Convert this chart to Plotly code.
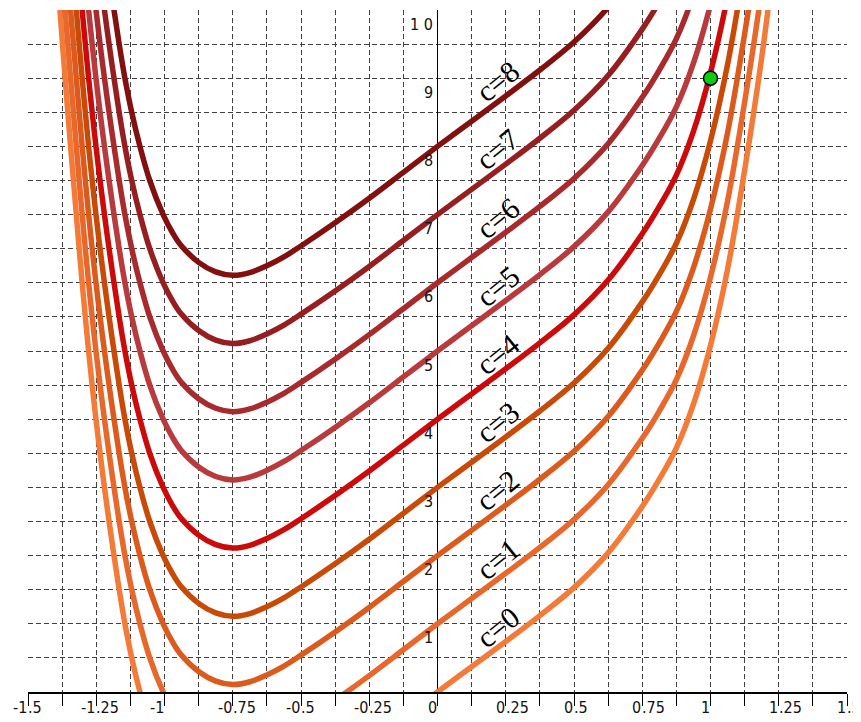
import plotly.graph_objects as go

# ---- data ----
# base curve h(x); each drawn curve is y = h(x) + c
base_x = [-1.401, -1.383, -1.364, -1.344, -1.323, -1.3125, -1.3015, -1.290, -1.278,
          -1.265, -1.251, -1.236, -1.220, -1.203, -1.185, -1.166, -1.145, -1.120,
          -1.090, -1.054, -1.005, -0.970, -0.940, -0.875, -0.8125, -0.75, -0.6875,
          -0.625, -0.5625, -0.5, -0.375, -0.25, -0.125, 0.0, 0.125, 0.25, 0.375,
          0.5, 0.625, 0.75, 0.8125, 0.875, 0.9375, 1.0, 1.0625, 1.125, 1.1875, 1.25]
base_h = [11.0, 10.0, 9.0, 8.0, 7.0, 6.5, 6.0, 5.5, 5.0,
          4.5, 4.0, 3.5, 3.0, 2.5, 2.0, 1.5, 1.0, 0.5,
          0.0, -0.5, -1.0, -1.27, -1.45, -1.70, -1.84, -1.89, -1.85,
          -1.75, -1.62, -1.46, -1.12, -0.76, -0.38, 0.0, 0.37, 0.74, 1.12,
          1.53, 2.04, 2.72, 3.12, 3.58, 4.22, 5.08, 6.2, 7.65, 9.3, 11.3]
c_values = [0, 1, 2, 3, 4, 5, 6, 7, 8]
c_colors = ["#F47A38", "#E8672A", "#DB5A1C", "#C94A06", "#CC0A0A",
            "#B83A3C", "#A82A2C", "#961E20", "#82100F"]
point_x = [1.0]
point_y = [9.0]

x_tick_vals = [-1.5, -1.25, -1.0, -0.75, -0.5, -0.25, 0.0, 0.25, 0.5, 0.75, 1.0, 1.25, 1.5]
x_tick_text = ["-1.5", "-1.25", "-1", "-0.75", "-0.5", "-0.25", "0", "0.25", "0.5",
               "0.75", "1", "1.25", "1.5"]
y_tick_vals = [1, 2, 3, 4, 5, 6, 7, 8, 9, 10]
y_tick_text = ["1", "2", "3", "4", "5", "6", "7", "8", "9", "1 0"]

fig = go.Figure()

for c, col in zip(c_values, c_colors):
    fig.add_trace(go.Scatter(
        x=base_x, y=[v + c for v in base_h], mode="lines",
        line=dict(color=col, width=5.5, shape="spline", smoothing=1.0),
        hoverinfo="skip", showlegend=False))

fig.add_trace(go.Scatter(
    x=point_x, y=point_y, mode="markers",
    marker=dict(size=14, color="#10CC10", line=dict(color="black", width=1.5)),
    showlegend=False))

ann = []
tick_font = dict(family="DejaVu Sans Condensed", size=16, color="#111111")
for v, t in zip(x_tick_vals, x_tick_text):
    if "." in t:
        ip, fp = t.split(".")
        fp = "." + fp
    else:
        ip, fp = t, ""
    ann.append(dict(x=v, y=0, xref="x", yref="paper", text=ip, showarrow=False,
                    xanchor="right", yanchor="middle", yshift=-15, borderpad=0,
                    font=tick_font))
    if fp:
        ann.append(dict(x=v, y=0, xref="x", yref="paper", text=fp, showarrow=False,
                        xanchor="left", yanchor="middle", yshift=-15, xshift=-1,
                        borderpad=0, font=tick_font))

for v, t in zip(y_tick_vals, y_tick_text):
    ann.append(dict(x=0, y=v, xref="x", yref="y", text=t, showarrow=False,
                    xanchor="right", yanchor="middle", xshift=-3, yshift=-14,
                    font=tick_font))

for c in c_values:
    ann.append(dict(x=0.218, y=c + 0.95, xref="x", yref="y", text="c=%d" % c,
                    showarrow=False, textangle=-39,
                    font=dict(family="Liberation Serif", size=30, color="black")))

fig.update_layout(
    width=853, height=714, autosize=False,
    margin=dict(l=20, r=14, t=2, b=30),
    paper_bgcolor="white", plot_bgcolor="white",
    annotations=ann,
    xaxis=dict(range=[-1.5, 1.5], tick0=0, dtick=0.125, showgrid=True,
               gridcolor="#404040", griddash="5px,3px", gridwidth=1,
               zeroline=True, zerolinecolor="black", zerolinewidth=1.3,
               showticklabels=False, ticks="outside", ticklen=12,
               tickcolor="black", tickwidth=1, automargin=False,
               showline=True, linecolor="black", linewidth=1.5, fixedrange=True),
    yaxis=dict(range=[0, 10], tick0=0, dtick=0.5, showgrid=True,
               gridcolor="#404040", griddash="5px,3px", gridwidth=1,
               zeroline=False, showticklabels=False, ticks="", automargin=False,
               showline=False, fixedrange=True),
)

fig.write_html("out.html")
